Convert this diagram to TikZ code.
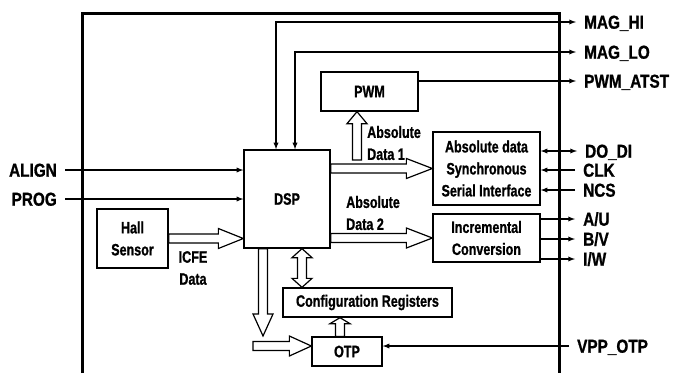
\documentclass[tikz,border=0pt]{standalone}
\usepackage{fontspec}
\setmainfont{Liberation Sans}[FakeStretch=0.76, BoldFeatures={FakeBold=1}]
\newfontfamily\pinfont{Liberation Sans}[FakeStretch=0.82, BoldFeatures={FakeBold=1}]
\usepackage{tikz}
\usetikzlibrary{calc}
\newcommand{\BusArrow}[3][25]{
	\coordinate (h) at ($(#3)!#1pt!(#2)$);
	\filldraw[fill=white, line width=1.2pt, line join=miter] ($(#2)!4.5pt!90:(#3)$) -- ($(h)!4.5pt!90:(#3)$) -- ($(h)!10pt!90:(#3)$) -- (#3) -- ($(h)!10pt!-90:(#3)$) -- ($(h)!4.5pt!-90:(#3)$) -- ($(#2)!4.5pt!-90:(#3)$) -- cycle;
}
\newcommand{\BusArrowBoth}[3][9]{
	\coordinate (h1) at ($(#2)!#1pt!(#3)$);
	\coordinate (h2) at ($(#3)!#1pt!(#2)$);
	\filldraw[fill=white, line width=1.2pt, line join=miter] (#2) -- ($(h1)!10pt!90:(#3)$) -- ($(h1)!4.5pt!90:(#3)$) -- ($(h2)!4.5pt!90:(#3)$) -- ($(h2)!10pt!90:(#3)$) -- (#3) -- ($(h2)!10pt!-90:(#3)$) -- ($(h2)!4.5pt!-90:(#3)$) -- ($(h1)!4.5pt!-90:(#3)$) -- ($(h1)!10pt!-90:(#3)$) -- cycle;
}

\begin{document}
\begin{tikzpicture}[x=1pt, y=-1pt, line cap=butt,
	box/.style={draw, line width=1.3pt, align=center, inner sep=0pt, font=\fontsize{16.5}{22}\selectfont\bfseries},
	wire/.style={line width=1.3pt},
	pin/.style={inner xsep=8pt, inner ysep=0pt, text height=13.4pt, text depth=0pt, font=\pinfont\fontsize{18.7}{22}\selectfont\bfseries},
	txt/.style={inner sep=0pt, font=\fontsize{16.5}{22}\selectfont\bfseries}]

	\useasboundingbox (0,0) rectangle (679,373);

	% chip outline
	\draw[line width=3pt] (82,373) -- (82,13) -- (559,13) -- (559,373);

	% blocks
	\node[box, minimum width=86pt, minimum height=98pt] (DSP) at (287,199) {DSP};
	\node[box, minimum width=97pt, minimum height=39pt] (PWM) at (369.5,91.5) {PWM};
	\node[box, minimum width=107pt, minimum height=73pt] (SSI) at (486.5,168.5) {Absolute data\\Synchronous\\Serial Interface};
	\node[box, minimum width=107pt, minimum height=48pt] (INC) at (486.5,238) {Incremental\\Conversion};
	\node[box, minimum width=71pt, minimum height=59pt] (HALL) at (132.5,238.5) {Hall\\Sensor};
	\node[box, minimum width=169pt, minimum height=29pt] (CFG) at (367.5,302.5) {Configuration Registers};
	\node[box, minimum width=70pt, minimum height=29pt] (OTP) at (347,351.5) {OTP};

	% pins
	\node[pin, anchor=west] (MAGHI) at (576,22) {MAG\_HI};
	\node[pin, anchor=west] (MAGLO) at (576,52) {MAG\_LO};
	\node[pin, anchor=west] (PWMATST) at (576,81) {PWM\_ATST};
	\node[pin, anchor=west] (DODI) at (577,151) {DO\_DI};
	\node[pin, anchor=west] (CLK) at (575,170) {CLK};
	\node[pin, anchor=west] (NCS) at (575,190) {NCS};
	\node[pin, anchor=west] (AU) at (575,219) {A/U};
	\node[pin, anchor=west] (BV) at (575,239) {B/V};
	\node[pin, anchor=west] (IW) at (575,259) {I/W};
	\node[pin, anchor=west] (VPP) at (569,346) {VPP\_OTP};
	\node[pin, anchor=east] (ALIGN) at (65,170) {ALIGN};
	\node[pin, anchor=east] (PROG) at (65,199) {PROG};

	% bus labels
	\node[txt, align=left, anchor=west] (AD1) at (367,143) {Absolute\\Data 1};
	\node[txt, align=left, anchor=west] (AD2) at (346,213) {Absolute\\Data 2};
	\node[txt, align=center] (ICFE) at (193,268) {ICFE\\Data};

	\coordinate (M1) at (276,0);
	\coordinate (M2) at (295,0);
	\coordinate (A1) at (357,160);
	\coordinate (C1) at (302,0);
	\coordinate (D1) at (263,336);
	\coordinate (O1) at (253,346);
	\coordinate (O2) at (340,0);

	% wires
	\draw[wire, latex-latex] (DSP.north -| M1) |- (MAGHI.west);
	\draw[wire, latex-latex] (DSP.north -| M2) |- (MAGLO.west);
	\draw[wire, -latex] (PWMATST.west -| PWM.east) -- (PWMATST.west);
	\draw[wire, -latex] (ALIGN.east) -- (ALIGN.east -| DSP.west);
	\draw[wire, -latex] (PROG.east) -- (PROG.east -| DSP.west);
	\draw[wire, latex-latex] (DODI.west -| SSI.east) -- (DODI.west);
	\draw[wire, -latex] (CLK.west) -- (CLK.west -| SSI.east);
	\draw[wire, -latex] (NCS.west) -- (NCS.west -| SSI.east);
	\draw[wire, -latex] (AU.west -| INC.east) -- (AU.west);
	\draw[wire, -latex] (BV.west -| INC.east) -- (BV.west);
	\draw[wire, -latex] (IW.west -| INC.east) -- (IW.west);
	\draw[wire, -latex] (VPP.west) -- (VPP.west -| OTP.east);

	% buses
	\BusArrow{HALL.east}{HALL.east -| DSP.west}
	\BusArrow[26]{SSI.west -| DSP.east}{SSI.west}
	\BusArrow[26]{INC.west -| DSP.east}{INC.west}
	\BusArrow[12]{A1}{A1 |- PWM.south}
	\BusArrowBoth{DSP.south -| C1}{CFG.north -| C1}
	\BusArrow[22]{DSP.south -| D1}{D1}
	\BusArrow[22]{O1}{O1 -| OTP.west}
	\BusArrow[6]{OTP.north -| O2}{CFG.south -| O2}

\end{tikzpicture}
\end{document}
